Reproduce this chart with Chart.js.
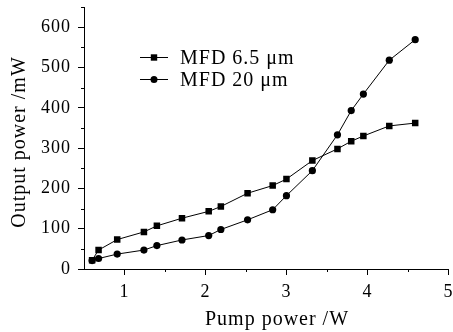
<!DOCTYPE html>
<html>
<head>
<meta charset="utf-8">
<script src="https://cdn.jsdelivr.net/npm/chart.js"></script>
<style>
  body { margin: 0; background: #fff; }
  #wrap { width: 453px; height: 332px; }
</style>
</head>
<body>
<div id="wrap"><canvas id="chart" width="453" height="332"></canvas></div>
<script>
// values
const pumpPower = [0.60, 0.68, 0.91, 1.24, 1.40, 1.71, 2.04, 2.19, 2.52, 2.83, 3.00, 3.32, 3.63, 3.80, 3.95, 4.27, 4.59];
const mfd65 = [22, 47, 73, 92, 107, 126, 143, 155, 188, 207, 223, 269, 298, 317, 330, 355, 362];
const mfd20 = [21, 26, 37, 47, 58, 72, 83, 98, 122, 147, 182, 244, 333, 393, 434, 518, 569];
const seriesNames = ['MFD 6.5 \u03bcm', 'MFD 20 \u03bcm'];
const xTickValues = [1, 2, 3, 4, 5];
const yTickValues = [0, 100, 200, 300, 400, 500, 600];
const xTitle = 'Pump power /W';
const yTitle = 'Output power /mW';

const serif = '"Liberation Serif", "Times New Roman", serif';

function toPoints(ys) {
    return pumpPower.map((x, i) => ({ x: x, y: ys[i] }));
}

// legend, axis titles and minor ticks
const extras = {
    id: 'extras',
    beforeDraw(chart) {
        chart.ctx.letterSpacing = '1px';
    },
    afterDraw(chart) {
        const ctx = chart.ctx;
        const xs = chart.scales.x, ys = chart.scales.y;
        const area = chart.chartArea;
        ctx.save();
        ctx.strokeStyle = '#000';
        ctx.lineWidth = 1;
        // minor ticks
        ctx.beginPath();
        for (let v = 50; v <= 650; v += 100) {
            const py = Math.round(ys.getPixelForValue(v)) + 0.5;
            ctx.moveTo(area.left - 3, py);
            ctx.lineTo(area.left, py);
        }
        for (let v = 1.5; v <= 4.5; v += 1) {
            const px = Math.round(xs.getPixelForValue(v)) + 0.5;
            ctx.moveTo(px, area.bottom);
            ctx.lineTo(px, area.bottom + 3);
        }
        ctx.stroke();

        // legend
        ctx.fillStyle = '#000';
        ctx.font = '20px ' + serif;
        ctx.letterSpacing = '1px';
        ctx.textAlign = 'left';
        ctx.textBaseline = 'alphabetic';
        chart.data.datasets.forEach((ds, i) => {
            const cy = 57.5 + i * 22;
            ctx.beginPath();
            ctx.moveTo(140, cy);
            ctx.lineTo(168, cy);
            ctx.stroke();
            ctx.beginPath();
            if (ds.pointStyle === 'rect') {
                ctx.rect(154 - 3.2, cy - 3.2, 6.4, 6.4);
            } else {
                ctx.arc(154, cy, 3.5, 0, Math.PI * 2);
            }
            ctx.fill();
            ctx.fillText(ds.label, 180, cy + 6);
        });

        // axis titles
        ctx.textAlign = 'center';
        ctx.fillText(xTitle, 277, 325);
        ctx.translate(25, 142);
        ctx.rotate(-Math.PI / 2);
        ctx.fillText(yTitle, 0, 0);
        ctx.restore();
    }
};

new Chart(document.getElementById('chart'), {
    type: 'line',
    data: {
        datasets: [
            {
                label: seriesNames[0],
                data: toPoints(mfd65),
                borderColor: '#000',
                backgroundColor: '#000',
                borderWidth: 1,
                pointStyle: 'rect',
                pointRadius: 4.6,
                pointBorderWidth: 0,
                tension: 0
            },
            {
                label: seriesNames[1],
                data: toPoints(mfd20),
                borderColor: '#000',
                backgroundColor: '#000',
                borderWidth: 1,
                pointStyle: 'circle',
                pointRadius: 3.6,
                pointBorderWidth: 0,
                tension: 0
            }
        ]
    },
    options: {
        responsive: false,
        animation: false,
        layout: { padding: { top: 7, right: 3, left: 0, bottom: 0 } },
        plugins: {
            legend: { display: false },
            tooltip: { enabled: false }
        },
        scales: {
            x: {
                type: 'linear',
                min: 0.5,
                max: 5,
                ticks: {
                    autoSkip: false,
                    color: '#000',
                    padding: 6,
                    maxRotation: 0,
                    font: { family: serif, size: 18 }
                },
                grid: { drawOnChartArea: false, drawTicks: true, tickLength: 6, color: '#000' },
                border: { color: '#000', width: 1 },
                afterBuildTicks(scale) {
                    scale.ticks = xTickValues.map(v => ({ value: v }));
                },
                afterFit(scale) {
                    scale.height = 63;
                    scale.paddingLeft = 0;
                    scale.paddingRight = 0;
                }
            },
            y: {
                min: 0,
                max: 650,
                ticks: {
                    autoSkip: false,
                    color: '#000',
                    padding: 7,
                    font: { family: serif, size: 18 }
                },
                grid: { drawOnChartArea: false, drawTicks: true, tickLength: 6, color: '#000' },
                border: { color: '#000', width: 1 },
                afterBuildTicks(scale) {
                    scale.ticks = yTickValues.map(v => ({ value: v }));
                },
                afterFit(scale) {
                    scale.width = 84;
                    scale.paddingTop = 0;
                    scale.paddingBottom = 0;
                }
            }
        }
    },
    plugins: [extras]
});
</script>
</body>
</html>
